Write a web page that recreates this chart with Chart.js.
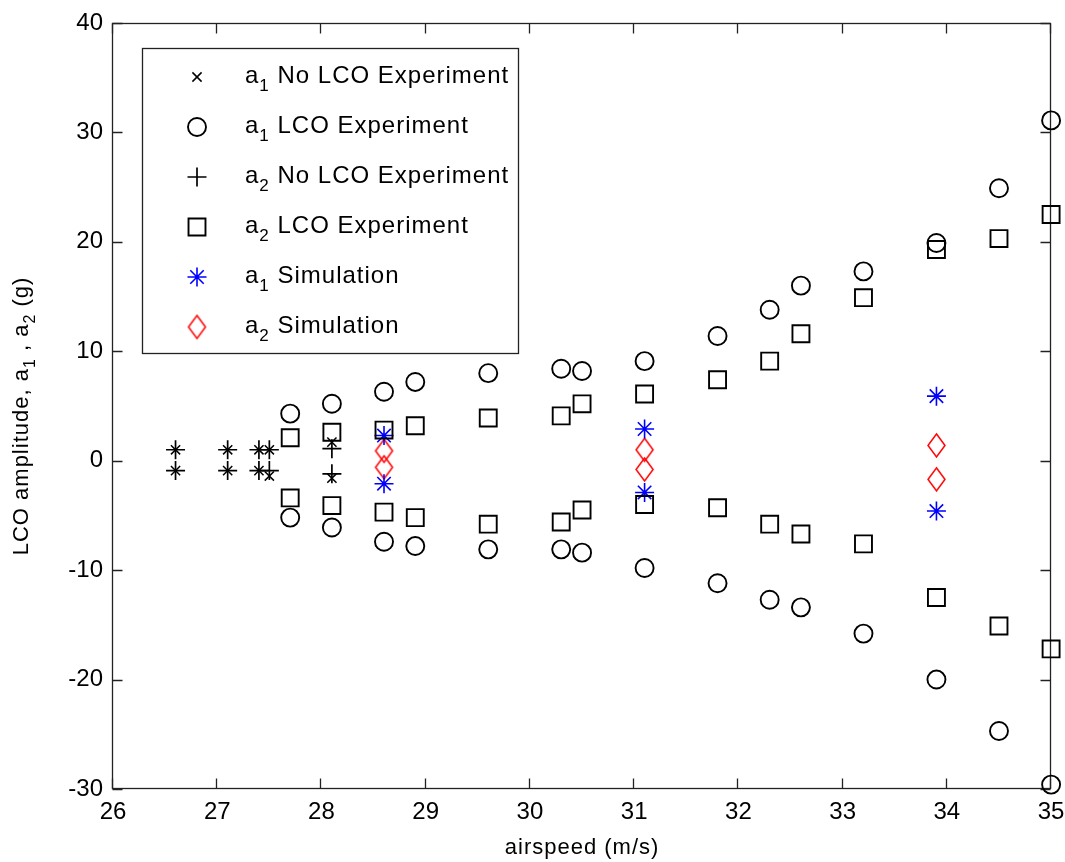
<!DOCTYPE html>
<html>
<head>
<meta charset="utf-8">
<script src="https://cdn.jsdelivr.net/npm/chart.js@4.4.1/dist/chart.umd.min.js"></script>
<style>
  html, body { margin: 0; padding: 0; background: #fff; }
  #wrap { width: 1065px; height: 862px; position: relative; }
</style>
</head>
<body>
<div id="wrap"><canvas id="lco"></canvas></div>
<script>
// airspeed (m/s) and amplitudes (g), upper/lower peak given as a pair for each speed
const noLcoSpeed = [26.6, 26.6, 27.1, 27.1, 27.4, 27.4, 27.5, 27.5, 28.1, 28.1];
const a1NoLco    = [1.0, -0.9, 1.0, -0.9, 1.0, -0.9, 1.0, -1.4, 1.7, -1.6];
const a2NoLco    = [1.0, -0.9, 1.0, -0.9, 1.0, -0.9, 1.0, -0.9, 1.1, -1.2];

const lcoSpeed = [27.7, 27.7, 28.1, 28.1, 28.6, 28.6, 28.9, 28.9, 29.6, 29.6, 30.3, 30.3, 30.5, 30.5,
                  31.1, 31.1, 31.8, 31.8, 32.3, 32.3, 32.6, 32.6, 33.2, 33.2, 33.9, 33.9, 34.5, 34.5, 35.0, 35.0];
const a1Lco = [4.3, -5.2, 5.2, -6.1, 6.3, -7.4, 7.2, -7.8, 8.0, -8.1, 8.4, -8.1, 8.2, -8.4,
               9.1, -9.8, 11.4, -11.2, 13.8, -12.7, 16.0, -13.4, 17.3, -15.8, 19.9, -20.0, 24.9, -24.7, 31.1, -29.6];
const a2Lco = [2.1, -3.4, 2.6, -4.1, 2.8, -4.7, 3.2, -5.2, 3.9, -5.8, 4.1, -5.6, 5.2, -4.5,
               6.1, -4.0, 7.4, -4.3, 9.1, -5.8, 11.6, -6.7, 14.9, -7.6, 19.3, -12.5, 20.3, -15.1, 22.5, -17.2];

const simSpeed = [28.6, 28.6, 31.1, 31.1, 33.9, 33.9];
const a1Sim    = [2.3, -2.1, 2.9, -2.9, 5.9, -4.6];
const a2Sim    = [0.9, -0.6, 1.0, -0.8, 1.4, -1.7];

const xTicks = [26, 27, 28, 29, 30, 31, 32, 33, 34, 35];
const yTicks = [-30, -20, -10, 0, 10, 20, 30, 40];

const FONT = "'Liberation Sans', Arial, sans-serif";

function pts(xs, ys) {
  return xs.map((x, i) => ({ x: x, y: ys[i] }));
}

// matlab 'd' marker is taller than wide, so draw it on a small canvas
function diamondMarker(w, h, color) {
  const c = document.createElement('canvas');
  c.width = w + 4;
  c.height = h + 4;
  const g = c.getContext('2d');
  g.strokeStyle = color;
  g.lineWidth = 1.5;
  g.beginPath();
  g.moveTo(c.width / 2, 2);
  g.lineTo(c.width - 2, c.height / 2);
  g.lineTo(c.width / 2, c.height - 2);
  g.lineTo(2, c.height / 2);
  g.closePath();
  g.stroke();
  return c;
}

// text with subscripts: runs = [[text, isSub], ...]
function runsWidth(ctx, runs, size, sub) {
  let w = 0;
  runs.forEach(r => {
    ctx.font = (r[1] ? sub : size) + 'px ' + FONT;
    w += ctx.measureText(r[0]).width;
  });
  return w;
}
function drawRuns(ctx, runs, x, y, size, sub, drop) {
  runs.forEach(r => {
    ctx.font = (r[1] ? sub : size) + 'px ' + FONT;
    ctx.fillText(r[0], x, r[1] ? y + drop : y);
    x += ctx.measureText(r[0]).width;
  });
}

const legendRuns = [
  [['a', 0], ['1', 1], [' No LCO Experiment', 0]],
  [['a', 0], ['1', 1], [' LCO Experiment', 0]],
  [['a', 0], ['2', 1], [' No LCO Experiment', 0]],
  [['a', 0], ['2', 1], [' LCO Experiment', 0]],
  [['a', 0], ['1', 1], [' Simulation', 0]],
  [['a', 0], ['2', 1], [' Simulation', 0]]
];

// box, inward ticks on all four sides, axis titles
const framePlugin = {
  id: 'frame',
  beforeDatasetsDraw(chart) {
    const ctx = chart.ctx;
    const a = chart.chartArea;
    const sx = chart.scales.x, sy = chart.scales.y;
    const L = Math.round(a.left) - 0.5, R = Math.round(a.right) - 0.5;
    const T = Math.round(a.top) + 0.5, B = Math.round(a.bottom) - 0.5;
    ctx.save();
    ctx.strokeStyle = '#222';
    ctx.lineWidth = 1.3;
    ctx.strokeRect(L, T, R - L, B - T);
    ctx.beginPath();
    xTicks.forEach(v => {
      const px = Math.round(sx.getPixelForValue(v)) - 0.5;
      ctx.moveTo(px, B); ctx.lineTo(px, B - 10);
      ctx.moveTo(px, T); ctx.lineTo(px, T + 10);
    });
    yTicks.forEach(v => {
      const py = Math.round(sy.getPixelForValue(v)) + 0.5;
      ctx.moveTo(L, py); ctx.lineTo(L + 10, py);
      ctx.moveTo(R, py); ctx.lineTo(R - 10, py);
    });
    ctx.stroke();

    ctx.fillStyle = '#000';
    ctx.letterSpacing = '1px';
    ctx.textBaseline = 'middle';
    ctx.textAlign = 'center';
    ctx.font = '22px ' + FONT;
    ctx.fillText('airspeed (m/s)', (a.left + a.right) / 2, 848);

    const yRuns = [['LCO amplitude, a', 0], ['1', 1], [' , a', 0], ['2', 1], [' (g)', 0]];
    ctx.textAlign = 'left';
    ctx.textBaseline = 'alphabetic';
    ctx.translate(28, 416);
    ctx.rotate(-Math.PI / 2);
    const w = runsWidth(ctx, yRuns, 22, 16);
    drawRuns(ctx, yRuns, -w / 2, 0, 22, 16, 7);
    ctx.restore();
  },
  afterDatasetsDraw(chart) {
    const ctx = chart.ctx;
    ctx.save();
    ctx.fillStyle = '#fff';
    ctx.fillRect(142, 48, 376, 305);
    ctx.strokeStyle = '#222';
    ctx.lineWidth = 1.3;
    ctx.strokeRect(142.5, 48.5, 376, 305);
    ctx.fillStyle = '#000';
    ctx.letterSpacing = '1px';
    ctx.textAlign = 'left';
    ctx.textBaseline = 'alphabetic';
    chart.data.datasets.forEach((ds, i) => {
      const cy = 77 + i * 50;
      if (Chart.helpers && Chart.helpers.drawPoint) {
        ctx.save();
        ctx.strokeStyle = ds.borderColor;
        ctx.fillStyle = 'rgba(0,0,0,0)';
        ctx.lineWidth = ds.borderWidth;
        Chart.helpers.drawPoint(ctx, { pointStyle: ds.pointStyle, radius: ds.pointRadius, rotation: 0, borderWidth: ds.borderWidth }, 197, cy);
        ctx.restore();
      }
      ctx.fillStyle = '#000';
      drawRuns(ctx, legendRuns[i], 245, cy + 6, 24, 17, 8);
    });
    ctx.restore();
  }
};

function scatterSet(label, xs, ys, style, r, color, bw) {
  return {
    label: label,
    data: pts(xs, ys),
    pointStyle: style,
    pointRadius: r,
    pointHoverRadius: r,
    borderColor: color,
    backgroundColor: 'rgba(0,0,0,0)',
    borderWidth: bw,
    showLine: false,
    clip: false
  };
}

new Chart(document.getElementById('lco'), {
  type: 'scatter',
  data: {
    datasets: [
      scatterSet('a1 No LCO Experiment', noLcoSpeed, a1NoLco, 'crossRot', 6.5, '#000', 1.5),
      scatterSet('a1 LCO Experiment', lcoSpeed, a1Lco, 'circle', 9, '#000', 1.9),
      scatterSet('a2 No LCO Experiment', noLcoSpeed, a2NoLco, 'cross', 9.5, '#000', 1.7),
      scatterSet('a2 LCO Experiment', lcoSpeed, a2Lco, 'rect', 12, '#000', 1.9),
      scatterSet('a1 Simulation', simSpeed, a1Sim, 'star', 9.5, '#0000ff', 1.6),
      scatterSet('a2 Simulation', simSpeed, a2Sim, diamondMarker(17, 23, '#ff0000'), 9, '#ff0000', 1.5)
    ]
  },
  options: {
    responsive: true,
    maintainAspectRatio: false,
    animation: false,
    layout: { padding: { left: 0, top: 23, right: 11, bottom: 0 } },
    plugins: { legend: { display: false }, tooltip: { enabled: false } },
    scales: {
      x: {
        type: 'linear',
        min: 26,
        max: 35,
        grid: { display: false, drawTicks: false },
        border: { display: false },
        afterBuildTicks: s => { s.ticks = xTicks.map(v => ({ value: v })); },
        afterFit: s => { s.height = 73; s.paddingLeft = 0; s.paddingRight = 0; },
        ticks: { font: { family: FONT, size: 24 }, color: '#000', padding: 9, maxRotation: 0, autoSkip: false }
      },
      y: {
        type: 'linear',
        min: -30,
        max: 40,
        grid: { display: false, drawTicks: false },
        border: { display: false },
        afterBuildTicks: s => { s.ticks = yTicks.map(v => ({ value: v })); },
        afterFit: s => { s.width = 113; s.paddingTop = 0; s.paddingBottom = 0; },
        ticks: { font: { family: FONT, size: 24 }, color: '#000', padding: 10, autoSkip: false }
      }
    }
  },
  plugins: [framePlugin]
});
</script>
</body>
</html>
